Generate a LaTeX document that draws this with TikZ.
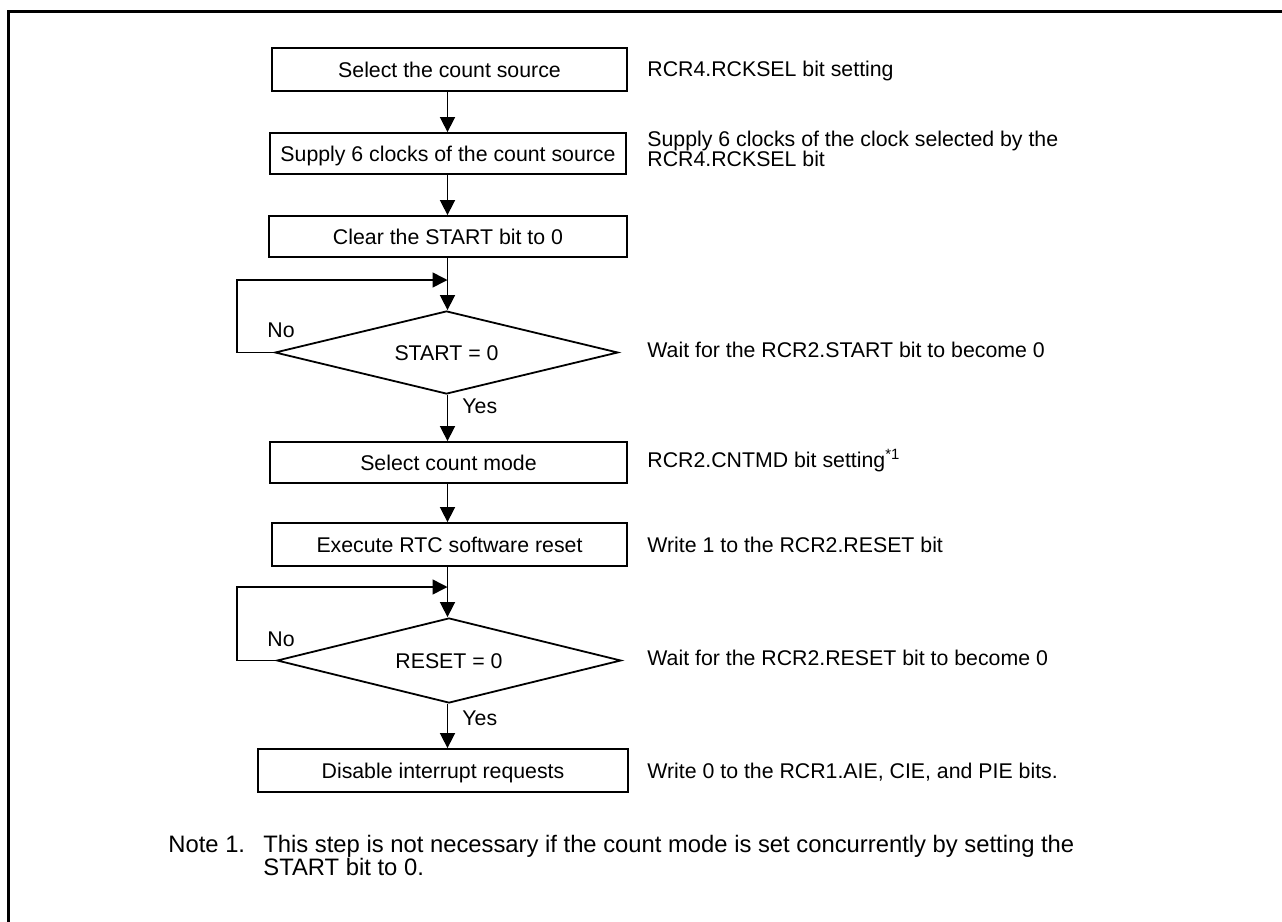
\documentclass[tikz,border=0pt]{standalone}
\usepackage{fontspec}
\setmainfont{Liberation Sans}
\usetikzlibrary{shapes.geometric,arrows.meta}
\newcommand\myfs{\fontsize{10.65pt}{9pt}\selectfont}
\newcommand\notefs{\fontsize{11.9pt}{12pt}\selectfont}
\begin{document}
\begin{tikzpicture}[x=0.5pt,y=-0.5pt,font=\myfs,
  box/.style={draw, line width=0.9pt, inner sep=0pt, text height=7.6pt, text depth=0pt, anchor=center},
  dec/.style={draw, diamond, aspect=4.1, line width=0.9pt, inner sep=0pt, text height=7.6pt, text depth=0pt, anchor=center},
  lbl/.style={anchor=base west, inner sep=0pt},
  notelbl/.style={anchor=base west, inner sep=0pt, font=\notefs},
  conn/.style={line width=0.8pt, -{Triangle[length=7.5pt,width=7.5pt]}},
  frameline/.style={line width=1.7pt, line join=miter}]
\useasboundingbox (0,0) rectangle (1282,922);
\clip (0,0) rectangle (1282,922);
\draw[frameline] (8.5,940) -- (8.5,11.5) -- (1300,11.5);

\coordinate (spine) at (447.5,0);
\coordinate (loopx) at (237,0);

\node[box, minimum width=177.5pt, minimum height=21.5pt] (b1) at (449.5,69.5) {Select the count source};
\node[box, minimum width=178pt, minimum height=20.5pt] (b2) at (448,153.5) {Supply 6 clocks of the count source};
\node[box, minimum width=179pt, minimum height=20.5pt] (b3) at (448,236.5) {Clear the START bit to 0};
\node[dec, minimum width=171.5pt, minimum height=41.5pt] (d1) at (446.5,352.5) {START = 0};
\node[box, minimum width=178.5pt, minimum height=20.5pt] (b4) at (448.5,462.5) {Select count mode};
\node[box, minimum width=177.5pt, minimum height=21.5pt] (b5) at (449.5,544.5) {Execute RTC software reset};
\node[dec, minimum width=172pt, minimum height=42.5pt] (d2) at (449,660.5) {RESET = 0};
\node[box, minimum width=185pt, minimum height=21.5pt] (b6) at (443,770.5) {Disable interrupt requests};

\coordinate (j1) at (447.5,280);
\coordinate (j2) at (447.5,587);

\draw[conn] (b1.south -| spine) -- (b2.north -| spine);
\draw[conn] (b2.south -| spine) -- (b3.north -| spine);
\draw[conn] (b3.south -| spine) -- (d1.north -| spine);
\draw[conn] (d1.west) -- (d1.west -| loopx) |- (j1);
\draw[conn] (d1.south -| spine) -- (b4.north -| spine);
\draw[conn] (b4.south -| spine) -- (b5.north -| spine);
\draw[conn] (b5.south -| spine) -- (d2.north -| spine);
\draw[conn] (d2.west) -- (d2.west -| loopx) |- (j2);
\draw[conn] (d2.south -| spine) -- (b6.north -| spine);

\node[lbl] (no1) at (267,337) {No};
\node[lbl] (yes1) at (462,413) {Yes};
\node[lbl] (no2) at (267,646) {No};
\node[lbl] (yes2) at (462,725) {Yes};

\node[lbl] (t1) at (647,76) {RCR4.RCKSEL bit setting};
\node[lbl] (t2a) at (647,146) {Supply 6 clocks of the clock selected by the};
\node[lbl] (t2b) at (647,166) {RCR4.RCKSEL bit};
\node[lbl] (t3) at (647,357.3) {Wait for the RCR2.START bit to become 0};
\node[lbl] (t4) at (647,467.3) {RCR2.CNTMD bit setting\textsuperscript{*1}};
\node[lbl] (t5) at (647,552) {Write 1 to the RCR2.RESET bit};
\node[lbl] (t6) at (647,665.5) {Wait for the RCR2.RESET bit to become 0};
\node[lbl] (t7) at (647,778) {Write 0 to the RCR1.AIE, CIE, and PIE bits.};

\node[notelbl] (note) at (168,852.5) {Note 1.};
\node[notelbl] (n1) at (263,852.5) {This step is not necessary if the count mode is set concurrently by setting the};
\node[notelbl] (n2) at (263,875.8) {START bit to 0.};
\end{tikzpicture}
\end{document}
